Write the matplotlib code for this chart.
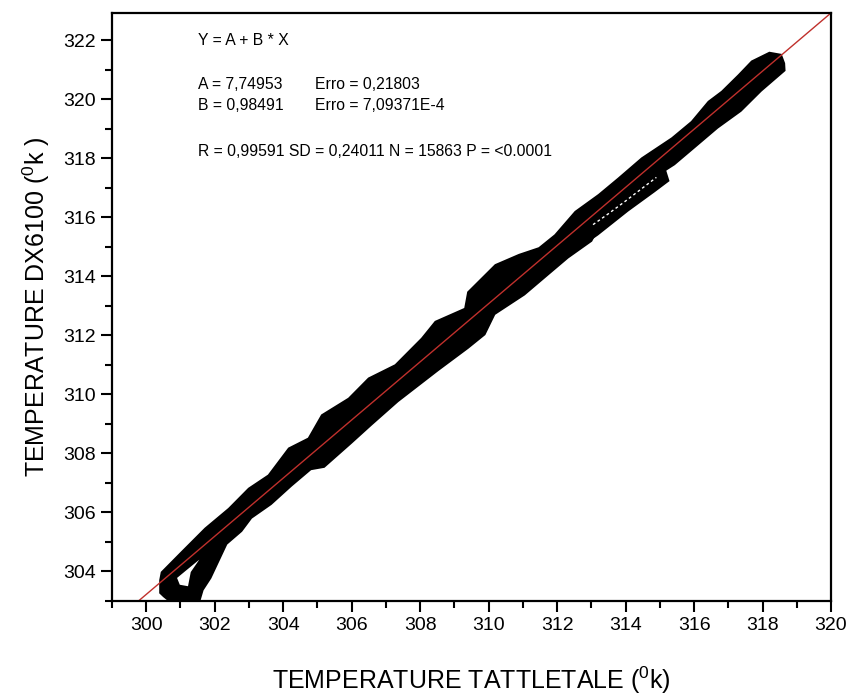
import matplotlib
matplotlib.use("Agg")
import matplotlib.pyplot as plt
from matplotlib.ticker import MultipleLocator

plt.rcParams['font.family'] = ['Liberation Sans', 'DejaVu Sans']
plt.rcParams['mathtext.fontset'] = 'custom'
plt.rcParams['mathtext.rm'] = 'Liberation Sans'
plt.rcParams['mathtext.it'] = 'Liberation Sans'

# parametros do ajuste linear
A = 7.74953
B = 0.98491

# contorno superior da nuvem de pontos (tattletale, dx6100)
upper_x = [300.46, 300.50, 301.08, 301.76, 302.45, 303.03, 303.61, 304.20, 304.78,
           305.17, 305.95, 306.53, 307.31, 308.09, 308.48, 309.36, 309.45, 310.23,
           310.91, 311.50, 311.98, 312.57, 313.25, 313.83, 314.51, 315.39, 315.97,
           316.46, 316.85, 317.34, 317.72, 318.21, 318.50, 318.58]
upper_y = [303.70, 303.94, 304.62, 305.41, 306.08, 306.76, 307.21, 308.12, 308.46,
           309.25, 309.81, 310.49, 310.94, 311.85, 312.41, 312.86, 313.43, 314.33,
           314.67, 314.90, 315.35, 316.14, 316.71, 317.27, 317.95, 318.63, 319.19,
           319.87, 320.21, 320.77, 321.23, 321.51, 321.45, 321.20]

# contorno inferior (da esquerda para a direita)
lower_x = [300.46, 300.55, 300.84, 301.48, 301.60, 301.83, 302.30, 302.74, 303.03,
           303.61, 304.20, 304.78, 305.17, 305.95, 306.53, 307.31, 308.09, 308.48,
           309.36, 309.84, 310.13, 311.01, 311.69, 312.28, 312.96, 313.20, 314.03,
           314.80, 315.39, 315.97, 316.65, 317.33, 317.92, 318.59]
lower_y = [303.30, 303.20, 302.93, 302.93, 303.40, 303.81, 304.97, 305.41, 305.86,
           306.33, 306.95, 307.52, 307.60, 308.40, 309.01, 309.81, 310.51, 310.86,
           311.62, 312.07, 312.76, 313.43, 314.10, 314.68, 315.24, 315.75, 316.80,
           317.40, 317.84, 318.41, 319.08, 319.65, 320.33, 321.00]

# ramo inferior entre 313 e 315 K
branch_x = [312.95, 313.10, 314.03, 314.80, 315.12, 315.19, 314.80, 314.03, 313.15]
branch_y = [315.30, 315.62, 316.72, 317.32, 317.52, 317.26, 316.92, 316.27, 315.46]

# fresta entre o ramo e a faixa principal
gap_x = [313.05, 313.50, 314.00, 314.45, 314.90]
gap_y = [315.75, 316.12, 316.55, 316.95, 317.35]

# buraco no laco inicial
hole_x = [300.90, 301.15, 301.55, 301.30, 301.22, 300.98]
hole_y = [303.78, 304.02, 304.40, 303.98, 303.50, 303.55]

fig = plt.figure(figsize=(8.53, 6.98), dpi=100)
ax = fig.add_axes([0.1313, 0.139, 0.8429, 0.8424])

ax.fill(upper_x + lower_x[::-1], upper_y + lower_y[::-1], facecolor='black',
        edgecolor='black', lw=4)
ax.fill(branch_x, branch_y, facecolor='black', edgecolor='black', lw=4)
ax.plot(gap_x, gap_y, color='white', lw=1, ls=(0, (2, 2)))
ax.fill(hole_x, hole_y, facecolor='white', lw=0)

xs = [299, 320]
ax.plot(xs, [A + B * x for x in xs], color='#c0302c', lw=1)

ax.set_xlim(299, 320)
ax.set_ylim(303, 322.92)
ax.xaxis.set_major_locator(MultipleLocator(2))
ax.xaxis.set_minor_locator(MultipleLocator(1))
ax.yaxis.set_major_locator(MultipleLocator(2))
ax.yaxis.set_minor_locator(MultipleLocator(1))
ax.tick_params(which='major', direction='out', length=8, width=1.5, labelsize=14)
ax.tick_params(which='minor', direction='out', length=5, width=1.5)
for s in ax.spines.values():
    s.set_linewidth(1.6)

ax.set_xlabel('TEMPERATURE TATTLETALE ($^{0}$k)', fontsize=18, labelpad=22)
ax.set_ylabel('TEMPERATURE DX6100 ($^{0}$k )', fontsize=18, labelpad=8)

fs = 11.3
ax.text(0.119, 0.954, 'Y = A + B * X', transform=ax.transAxes, fontsize=fs, va='center')
ax.text(0.119, 0.878, 'A = 7,74953', transform=ax.transAxes, fontsize=fs, va='center')
ax.text(0.282, 0.878, 'Erro = 0,21803', transform=ax.transAxes, fontsize=fs, va='center')
ax.text(0.119, 0.842, 'B = 0,98491', transform=ax.transAxes, fontsize=fs, va='center')
ax.text(0.282, 0.842, 'Erro = 7,09371E-4', transform=ax.transAxes, fontsize=fs, va='center')
ax.text(0.119, 0.765, 'R = 0,99591 SD = 0,24011 N = 15863 P = <0.0001',
        transform=ax.transAxes, fontsize=fs, va='center')

fig.savefig('out.png', dpi=100)
